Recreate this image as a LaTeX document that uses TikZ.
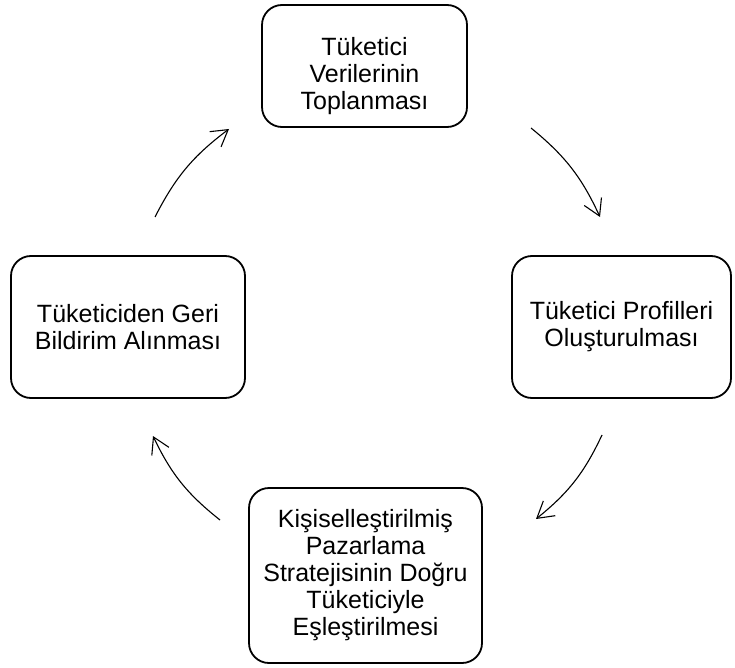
\documentclass[tikz,border=0pt]{standalone}
\usepackage{fontspec}
\setmainfont{Liberation Sans}
\usetikzlibrary{arrows.meta}

\tikzset{
  adim/.style={draw, line width=1.8pt, rounded corners=20pt, align=center,
    inner sep=0pt, font=\fontsize{25}{27}\selectfont},
  ok/.style={line width=1.1pt, -{Straight Barb[length=16pt,width=19pt]}}
}

\begin{document}
\begin{tikzpicture}[x=1pt, y=-1pt]
\useasboundingbox (0,0) rectangle (735,668);
\node[adim, minimum width=205pt, minimum height=122pt, text height=93pt] (toplama) at (364.5,66) {T\"uketici\\Verilerinin\\Toplanmas\i}; % adim.1
\node[adim, minimum width=219pt, minimum height=142pt] (profil) at (621.5,327) {T\"uketici Profilleri\\Olu\c{s}turulmas\i}; % adim.2
\node[adim, minimum width=233pt, minimum height=175pt] (eslestirme) at (365.5,575.5) {Ki\c{s}iselle\c{s}tirilmi\c{s}\\Pazarlama\\Stratejisinin Do\u{g}ru\\T\"uketiciyle\\E\c{s}le\c{s}tirilmesi}; % adim.3
\node[adim, minimum width=234pt, minimum height=142pt] (geribildirim) at (128,327) {T\"uketiciden Geri\\Bildirim Al\i nmas\i}; % adim.4
\coordinate (c1a) at (531,128); % toplama -> profil
\coordinate (c1b) at (600,217);
\coordinate (c2a) at (602,435); % profil -> eslestirme
\coordinate (c2b) at (536,519);
\coordinate (c3a) at (220,520); % eslestirme -> geribildirim
\coordinate (c3b) at (153,436);
\coordinate (c4a) at (155,217); % geribildirim -> toplama
\coordinate (c4b) at (229,129);
\draw[ok] (c1a) to[bend left=13] (c1b);
\draw[ok] (c2a) to[bend left=13] (c2b);
\draw[ok] (c3a) to[bend left=13] (c3b);
\draw[ok] (c4a) to[bend left=13] (c4b);
\end{tikzpicture}
\end{document}
